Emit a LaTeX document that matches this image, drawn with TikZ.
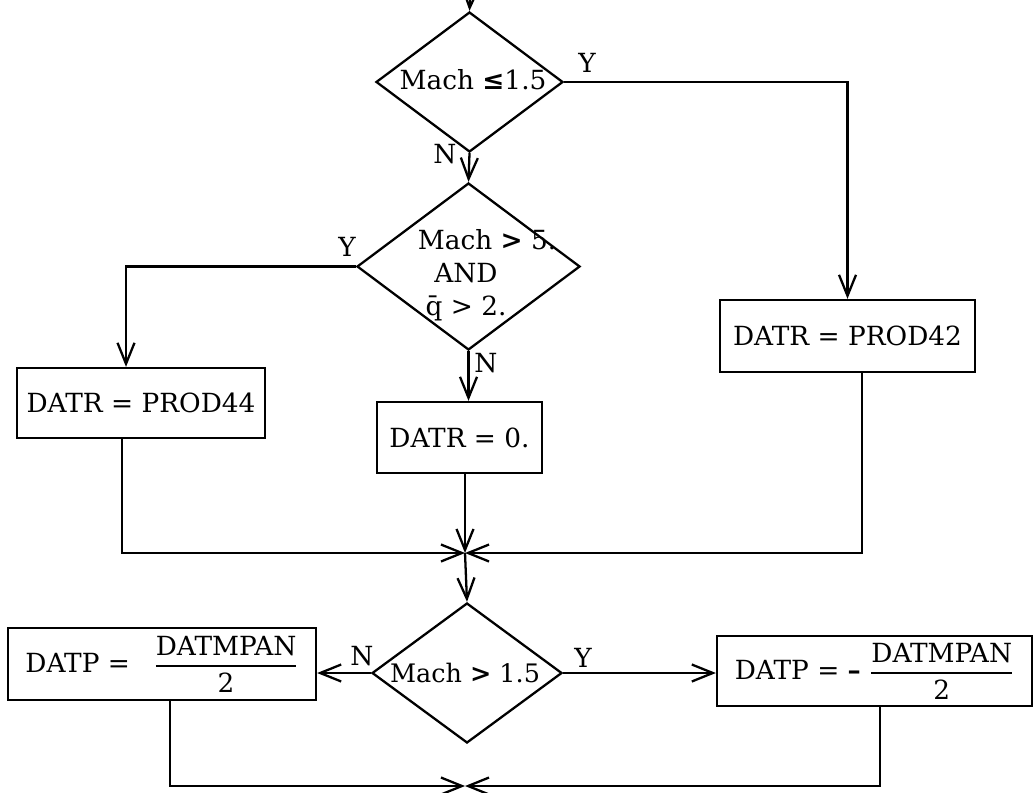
\documentclass[tikz,border=0pt]{standalone}
\usepackage{fontspec}
\setmainfont{DejaVu Serif}
\usepackage{amsmath}
\usetikzlibrary{shapes.geometric,arrows.meta}
\newcommand\pxu{0.02cm}
\newcommand\myfrac{$\genfrac{}{}{1.1pt}{0}{\mbox{DATMPAN}}{\mbox{2}}$}
\newcommand\bgt{{\bfseries >}}
\begin{document}
\begin{tikzpicture}[x=0.02cm,y=-0.02cm,
  every node/.style={font=\fontsize{15}{18.7}\selectfont},
  flow/.style={line width=1.3pt},
  arr/.style={flow,-{Straight Barb[length=4.2mm,width=3.4mm]}},
  box/.style={draw,line width=1.3pt,rectangle,inner sep=0pt},
  dec/.style={draw,line width=1.3pt,diamond,inner sep=0pt},
  lbl/.style={inner sep=1pt}]
\useasboundingbox (0,0) rectangle (1033,793);
% decisions
\node[dec,minimum width=187*\pxu,minimum height=140*\pxu] (d1) at (469.5,82) {};
\node (d1t) at (473,80) {Mach {\bfseries ≤}1.5};
\node[dec,minimum width=223*\pxu,minimum height=167*\pxu] (d2) at (468.5,266.5) {};
\node[align=center] (d2t) at (466,275) {\hspace*{1.6em}Mach \bgt{} 5.\\AND\\\={q} > 2.};
\node[dec,minimum width=190*\pxu,minimum height=140*\pxu] (d3) at (467,673) {};
\node[font=\fontsize{14.5}{18}\selectfont] (d3t) at (465,673) {Mach \bgt{} 1.5};
% boxes
\node[box,minimum width=248*\pxu,minimum height=70*\pxu] (b44) at (141,403) {DATR = PROD44};
\node[box,minimum width=255*\pxu,minimum height=72*\pxu] (b42) at (847.5,336) {DATR = PROD42};
\node[box,minimum width=165*\pxu,minimum height=71*\pxu] (b0) at (459.5,437.5) {DATR = 0.};
\node[box,minimum width=308*\pxu,minimum height=72*\pxu] (bl) at (162,664) {DATP =\hspace{0.9em}\myfrac};
\node[box,minimum width=315*\pxu,minimum height=70*\pxu] (br) at (874.5,671) {DATP = {\bfseries --} \myfrac};
% junctions
\coordinate (top) at (470,0);
\coordinate (j1) at (465,553);
\coordinate (j2) at (465,786);
% labels
\node[lbl] (y1) at (587,63) {Y};
\node[lbl] (n1) at (445,154) {N};
\node[lbl] (y2) at (347,247) {Y};
\node[lbl] (n2) at (486,363) {N};
\node[lbl] (n3) at (362,656) {N};
\node[lbl] (y3) at (583,658) {Y};
% connectors
\draw[arr] (top) -- (d1.north);
\draw[arr] (d1.east) -- (d1.east -| b42.north) -- (b42.north);
\draw[arr] (d1.south) -- (d2.north);
\draw[arr] (d2.west) -| ([xshift=-0.3cm]b44.north);
\draw[arr] (d2.south) -- (d2.south |- b0.north);
\draw[arr] (b0.south -| j1) -- (j1);
\draw[arr] ([xshift=-0.38cm]b44.south) |- (j1);
\draw[arr] ([xshift=0.29cm]b42.south) |- (j1);
\draw[arr] (j1) -- (d3.north);
\draw[arr] (d3.west) -- (d3.west -| bl.east);
\draw[arr] (d3.east) -- (d3.east -| br.west);
\draw[arr] ([xshift=0.16cm]bl.south) |- (j2);
\draw[arr] ([xshift=0.11cm]br.south) |- (j2);
\end{tikzpicture}
\end{document}
